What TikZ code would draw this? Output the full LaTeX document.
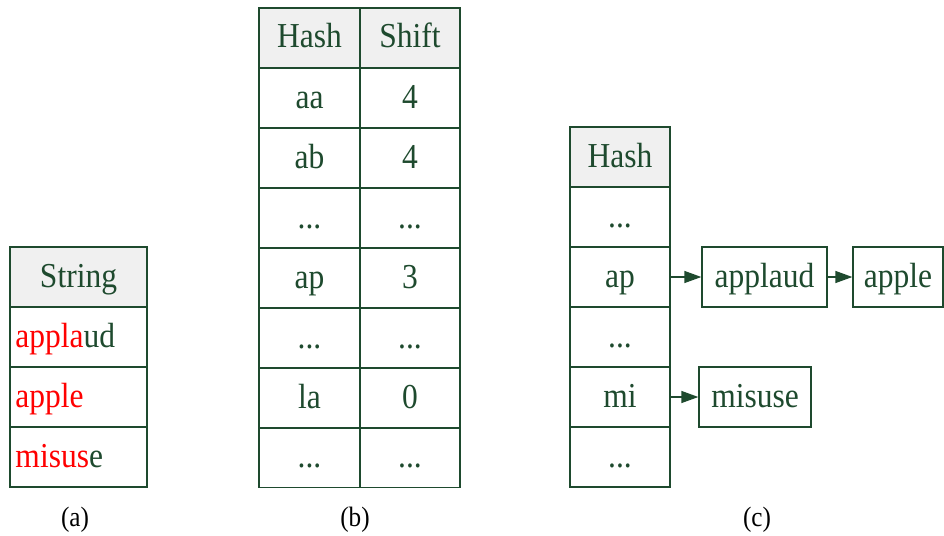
\documentclass[tikz,border=0pt]{standalone}
\usepackage{fontspec}
\setmainfont[FakeStretch=0.9]{Liberation Serif}
\usetikzlibrary{arrows.meta}
\definecolor{ink}{HTML}{1E4A2E}
\definecolor{headfill}{HTML}{F0F0F0}
\definecolor{hit}{HTML}{FF0000}
\tikzset{
  cell/.style={draw=ink, line width=1.3pt, text=ink, inner sep=0pt,
    minimum height=60pt, text height=26pt, text depth=6pt,
    font=\fontsize{35}{35}\selectfont},
  head/.style={cell, fill=headfill},
  strcell/.style={cell, minimum width=137pt, text width=126pt, align=left},
  strhead/.style={strcell, fill=headfill, align=center},
  hcol/.style={minimum width=101pt},
  scol/.style={minimum width=100pt},
  item/.style={cell},
  link/.style={draw=ink, line width=1.3pt, -{Triangle[length=17pt,width=12pt]}},
  caption/.style={font=\fontsize{28}{28}\selectfont, text=black}
}
\begin{document}
\begin{tikzpicture}[x=1pt,y=-1pt]
\useasboundingbox (0,0) rectangle (944,535);

% (a) list of strings
\node[strhead] (sh) at (78.5,277) {String};
\node[strcell] (s1) at (78.5,337) {{\color{hit}appla}ud};
\node[strcell] (s2) at (78.5,397) {{\color{hit}apple}};
\node[strcell] (s3) at (78.5,457) {{\color{hit}misus}e};
\node[caption] (ca) at (75,520) {(a)};

% (b) shift table
\node[head,hcol] (bh1) at (309.5,38) {Hash};
\node[head,scol] (bh2) at (410,38) {Shift};
\node[cell,hcol] (b11) at (309.5,98) {aa};
\node[cell,scol] (b12) at (410,98) {4};
\node[cell,hcol] (b21) at (309.5,158) {ab};
\node[cell,scol] (b22) at (410,158) {4};
\node[cell,hcol] (b31) at (309.5,218) {...};
\node[cell,scol] (b32) at (410,218) {...};
\node[cell,hcol] (b41) at (309.5,278) {ap};
\node[cell,scol] (b42) at (410,278) {3};
\node[cell,hcol] (b51) at (309.5,338) {...};
\node[cell,scol] (b52) at (410,338) {...};
\node[cell,hcol] (b61) at (309.5,398) {la};
\node[cell,scol] (b62) at (410,398) {0};
\node[cell,hcol] (b71) at (309.5,457.5) {...};
\node[cell,scol] (b72) at (410,457.5) {...};
\node[caption] (cb) at (355,520) {(b)};

% (c) hash buckets with chained strings
\node[head,scol] (ch) at (620,157) {Hash};
\node[cell,scol] (c1) at (620,217) {...};
\node[cell,scol] (c2) at (620,277) {ap};
\node[cell,scol] (c3) at (620,337) {...};
\node[cell,scol] (c4) at (620,397) {mi};
\node[cell,scol] (c5) at (620,457) {...};
\node[item,minimum width=125pt] (applaud) at (764.5,277) {applaud};
\node[item,minimum width=90pt] (apple) at (898,277) {apple};
\node[item,minimum width=112pt] (misuse) at (755,397) {misuse};
\draw[link] (c2.east) -- (applaud.west);
\draw[link] (applaud.east) -- (apple.west);
\draw[link] (c4.east) -- (misuse.west);
\node[caption] (cc) at (757,520) {(c)};
\end{tikzpicture}
\end{document}
